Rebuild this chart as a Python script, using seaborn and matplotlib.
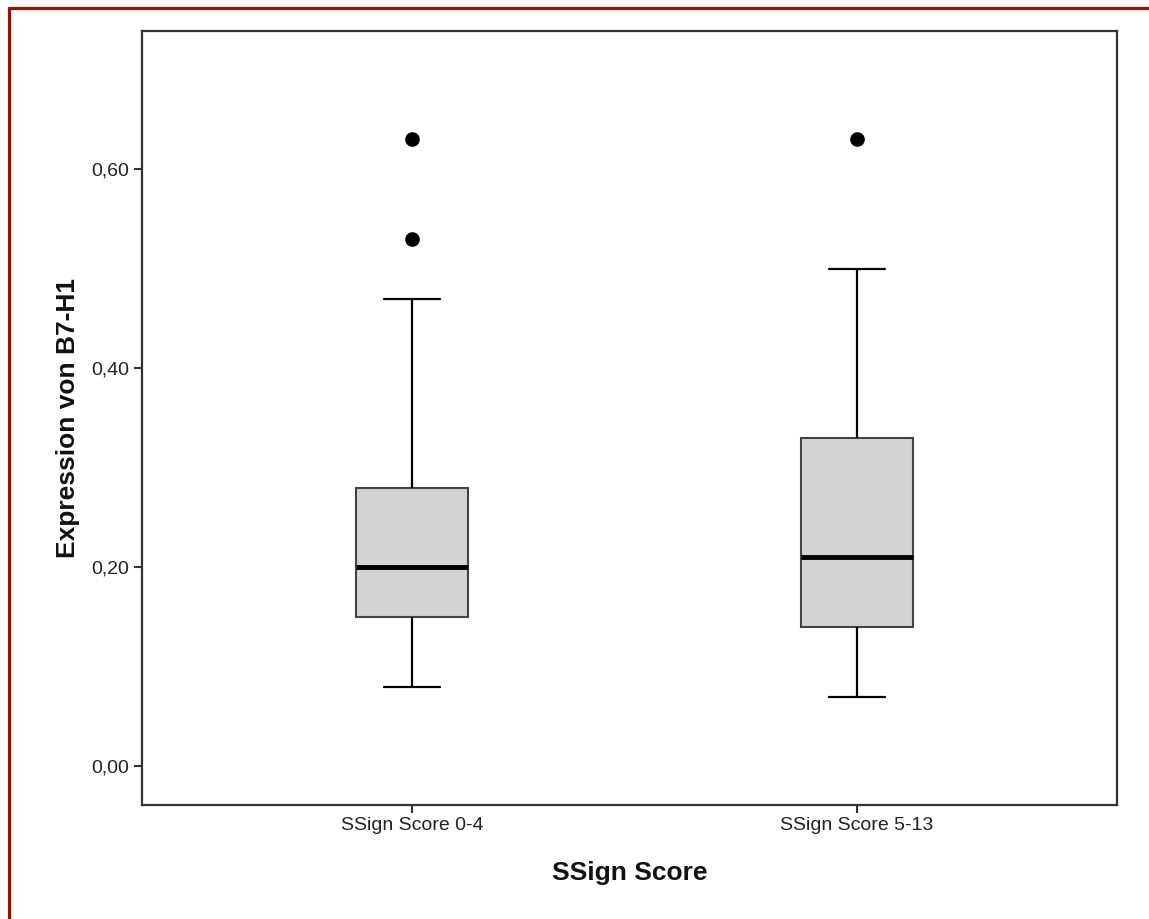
import numpy as np
import pandas as pd
import matplotlib
matplotlib.use("Agg")
import matplotlib.pyplot as plt
from matplotlib.lines import Line2D
from matplotlib.ticker import FuncFormatter
import seaborn as sns

# box summaries
groups = ["SSign Score 0-4", "SSign Score 5-13"]
whisker_low = [0.08, 0.07]
q1 = [0.15, 0.14]
median = [0.20, 0.21]
q3 = [0.28, 0.33]
whisker_high = [0.47, 0.50]
outliers = [[0.53, 0.63], [0.63]]

# long table whose quartiles / whiskers give back the summaries above
rows = []
for i, g in enumerate(groups):
    vals = ([whisker_low[i]] + [q1[i]] * 5 + [median[i]] + [q3[i]] * 3
            + [whisker_high[i]] * (3 - len(outliers[i])) + outliers[i])
    for v in vals:
        rows.append({"group": g, "value": v})
df = pd.DataFrame(rows)

sns.set_style("white")
plt.rcParams["font.family"] = ["Liberation Sans", "DejaVu Sans"]

fig = plt.figure(figsize=(11.49, 9.19), dpi=100)
ax = fig.add_axes([142 / 1149, 1 - 805 / 919, 975 / 1149, 774 / 919])

sns.boxplot(data=df, x="group", y="value", ax=ax, width=0.252,
            color="#D3D3D3", saturation=1, linecolor="black", linewidth=1.6,
            whis=1.5,
            boxprops=dict(edgecolor="#444444", linewidth=1.5),
            medianprops=dict(color="black", linewidth=3.5),
            whiskerprops=dict(color="black", linewidth=1.6),
            capprops=dict(color="black", linewidth=1.6),
            flierprops=dict(marker="o", markerfacecolor="black",
                            markeredgecolor="black", markersize=9.5))

ax.set_xlim(-0.607, 1.584)
ax.set_ylim(-0.039, 0.739)
ax.set_yticks([0, 0.2, 0.4, 0.6])
ax.yaxis.set_major_formatter(FuncFormatter(lambda v, p: f"{v:.2f}".replace(".", ",")))

for s in ax.spines.values():
    s.set_color("#333333")
    s.set_linewidth(1.6)

ax.tick_params(axis="both", direction="out", length=6, width=1.5,
               color="#333333", labelsize=14, labelcolor="#222222",
               left=True, bottom=True, pad=3)

ax.set_xlabel("SSign Score", fontsize=19, fontweight="bold", color="#111111")
ax.set_ylabel("Expression von B7-H1", fontsize=19, fontweight="bold", color="#111111")
ax.xaxis.set_label_coords(0.5, -0.0879)
ax.xaxis.label.set_va("center")
ax.yaxis.set_label_coords(-0.0759, 0.5)
ax.yaxis.label.set_va("center")

# dark red frame lines at top and left of the picture
fig.add_artist(Line2D([8.5 / 1149, 1], [1 - 7.5 / 919] * 2,
                      transform=fig.transFigure, color="#991300", linewidth=2.3))
fig.add_artist(Line2D([8.5 / 1149] * 2, [0, 1 - 7.5 / 919],
                      transform=fig.transFigure, color="#991300", linewidth=2.3))

fig.savefig("out.png", dpi=100)
